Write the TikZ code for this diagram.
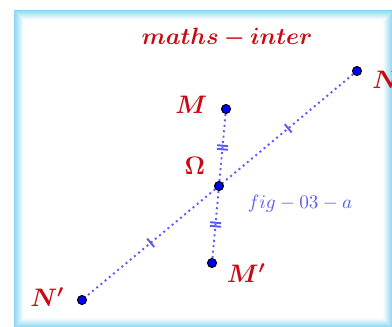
\documentclass[tikz,border=0pt]{standalone}
\usepackage{amsmath,amsfonts,amssymb}
\usepackage{bm}
\usepackage{tikz}
\usepackage{xcolor}
\usetikzlibrary{positioning,decorations.markings}

\definecolor{glow}{RGB}{110,205,240}
\definecolor{lbl}{RGB}{200,10,20}
\definecolor{ligne}{RGB}{90,90,250}

\begin{document}
\begin{tikzpicture}[
        x=0.02cm, y=-0.02cm,
        pt/.style={circle, draw=black, fill=blue, line width=0.6pt, minimum size=0.18cm, inner sep=0pt},
        lab/.style={text=lbl, font=\Large, inner sep=0pt},
        seg/.style={ligne, dotted, line width=1.1pt},
        tickone/.style={postaction={decorate, decoration={markings, mark=at position 0.5 with
          {\draw[solid, line width=1.1pt] (0,-5.5) -- (0,5.5);}}}},
        ticktwo/.style={postaction={decorate, decoration={markings, mark=at position 0.5 with
          {\draw[solid, line width=1.1pt] (-1.8,-5.5) -- (-1.8,5.5) (1.8,-5.5) -- (1.8,5.5);}}}}
      ]
        \useasboundingbox (0,0) rectangle (392,327);
        % cadre
        \fill[white] (15,11) rectangle (392,327);
        \foreach \i in {0,...,9}
          \draw[glow!\fpeval{80-8.5*\i}!white, line width=0.04cm] (15+\i,11+\i) rectangle (392-\i,327-\i);
        % points
        \node[pt] (M) at (226,109) {};
        \node[pt] (N) at (357,71) {};
        \node[pt] (O) at (219,186) {};
        \node[pt] (M') at (212,263) {};
        \node[pt] (N') at (82,300) {};
        % segments
        \draw[seg, ticktwo] (M) -- (O);
        \draw[seg, ticktwo] (O) -- (M');
        \draw[seg, tickone] (N) -- (O);
        \draw[seg, tickone] (O) -- (N');
        % noms
        \node[lab, left=0.27cm of M, yshift=0.08cm] {$\bm{M}$};
        \node[lab, right=0.2cm of N, yshift=-0.18cm] {$\bm{N}$};
        \node[lab, left=0.17cm of O, yshift=0.4cm] {$\bm{\Omega}$};
        \node[lab, right=0.19cm of M', yshift=-0.2cm] {$\bm{M'}$};
        \node[lab, left=0.25cm of N', yshift=0.06cm] {$\bm{N'}$};
        \node[lab, scale=0.93] (titre) at (227,38) {$\bm{maths-inter}$};
        \node[text=ligne, font=\fontsize{10.5}{12}\selectfont] (fig) at (300,204) {$fig-03-a$};
      \end{tikzpicture}
\end{document}
